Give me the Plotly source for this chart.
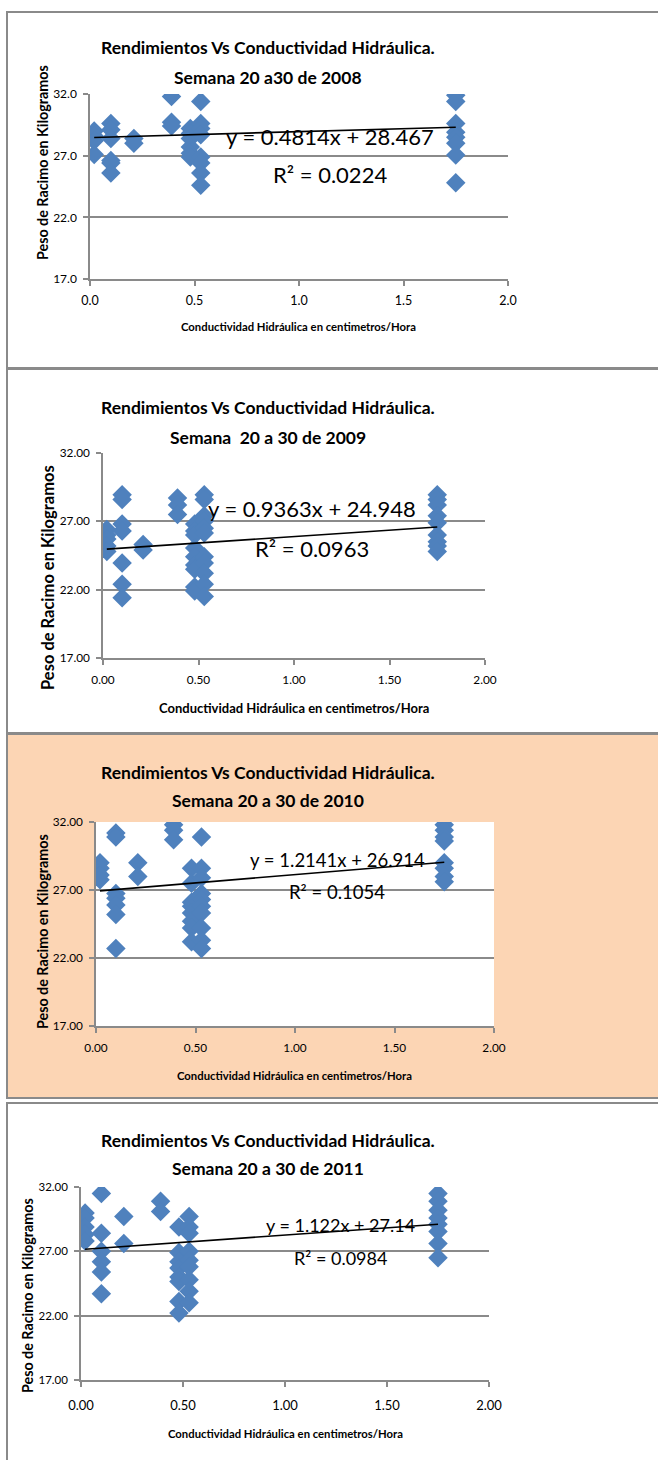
import plotly.graph_objects as go

W, H = 658, 1460
FONT = "Lato, Carlito, Calibri, sans-serif"
BLUE = "#4F81BD"
GRAY = "#8a8a8a"

# ---------------- data ----------------
x_2008 = [0.02, 0.02, 0.02, 0.02,
          0.10, 0.10, 0.10, 0.10, 0.10, 0.10,
          0.21, 0.21,
          0.39, 0.39, 0.39,
          0.48, 0.48, 0.48, 0.48, 0.48, 0.48,
          0.53, 0.53, 0.53, 0.53, 0.53, 0.53, 0.53, 0.53,
          1.75, 1.75, 1.75, 1.75, 1.75, 1.75, 1.75, 1.75]
y_2008 = [29.0, 28.6, 28.2, 27.1,
          29.6, 29.1, 28.4, 26.6, 26.4, 25.6,
          28.4, 28.0,
          31.8, 29.7, 29.4,
          29.2, 28.8, 28.4, 27.7, 27.2, 26.9,
          31.4, 29.6, 29.2, 28.7, 26.9, 26.4, 25.6, 24.6,
          31.9, 31.4, 29.6, 28.9, 28.5, 28.0, 27.05, 24.8]

x_2009 = [0.02, 0.02, 0.02, 0.02, 0.02,
          0.10, 0.10, 0.10, 0.10, 0.10, 0.10, 0.10,
          0.21, 0.21,
          0.39, 0.39, 0.39,
          0.48, 0.48, 0.48, 0.48, 0.48, 0.48, 0.48, 0.48, 0.48,
          0.53, 0.53, 0.53, 0.53, 0.53, 0.53, 0.53, 0.53, 0.53, 0.53, 0.53,
          1.75, 1.75, 1.75, 1.75, 1.75, 1.75, 1.75, 1.75, 1.75]
y_2009 = [26.4, 26.0, 25.7, 25.2, 24.8,
          28.95, 28.6, 26.8, 26.3, 23.95, 22.4, 21.4,
          25.3, 24.9,
          28.7, 28.2, 27.5,
          26.8, 26.3, 26.0, 25.05, 24.4, 23.8, 23.5, 22.2, 21.9,
          28.95, 28.6, 27.4, 27.0, 26.5, 26.15, 24.4, 23.95, 23.2, 22.4, 21.5,
          28.95, 28.6, 28.2, 27.4, 26.9, 26.0, 25.5, 25.2, 24.8]

x_2010 = [0.02, 0.02, 0.02, 0.02,
          0.10, 0.10, 0.10, 0.10, 0.10, 0.10, 0.10,
          0.21, 0.21,
          0.39, 0.39, 0.39,
          0.48, 0.48, 0.48, 0.48, 0.48, 0.48, 0.48, 0.48,
          0.53, 0.53, 0.53, 0.53, 0.53, 0.53, 0.53, 0.53, 0.53, 0.53,
          1.75, 1.75, 1.75, 1.75, 1.75, 1.75, 1.75, 1.75]
y_2010 = [29.0, 28.6, 28.1, 27.75,
          31.2, 30.9, 26.75, 26.4, 25.9, 25.2, 22.7,
          29.0, 28.0,
          31.8, 31.4, 30.7,
          28.6, 27.5, 26.1, 25.8, 25.3, 24.7, 24.2, 23.2,
          30.9, 28.6, 27.9, 26.75, 26.3, 25.8, 25.3, 24.2, 23.3, 22.7,
          31.8, 31.4, 30.9, 30.6, 29.0, 28.6, 28.0, 27.6]

x_2011 = [0.02, 0.02, 0.02, 0.02, 0.02,
          0.10, 0.10, 0.10, 0.10, 0.10, 0.10,
          0.21, 0.21,
          0.39, 0.39,
          0.48, 0.48, 0.48, 0.48, 0.48, 0.48, 0.48, 0.48,
          0.53, 0.53, 0.53, 0.53, 0.53, 0.53, 0.53, 0.53, 0.53,
          1.75, 1.75, 1.75, 1.75, 1.75, 1.75, 1.75, 1.75]
y_2011 = [29.97, 29.6, 28.9, 28.3, 27.8,
          31.5, 28.4, 27.0, 26.2, 25.4, 23.7,
          29.7, 27.6,
          30.9, 30.1,
          28.9, 26.9, 26.2, 25.7, 25.0, 24.65, 23.1, 22.2,
          29.7, 28.9, 28.4, 27.0, 26.3, 25.8, 24.8, 23.9, 23.0,
          31.5, 30.9, 30.2, 29.6, 29.1, 28.55, 27.6, 26.5]

subtitles = ["Semana 20 a30 de 2008", "Semana\u00a0 20 a 30 de 2009",
             "Semana 20 a 30 de 2010", "Semana 20 a 30 de 2011"]
slopes = [0.4814, 0.9363, 1.2141, 1.122]
intercepts = [28.467, 24.948, 26.914, 27.14]
eq_labels = ["y = 0.4814x + 28.467", "y = 0.9363x + 24.948",
             "y = 1.2141x + 26.914", "y = 1.122x + 27.14"]
r2_labels = ["R² = 0.0224", "R² = 0.0963", "R² = 0.1054", "R² = 0.0984"]
trend_x = [0.02, 1.75]
y_ticks = [17, 22, 27, 32]
x_ticks = [0.0, 0.5, 1.0, 1.5, 2.0]
tick_fmt = [".1f", ".2f", ".2f", ".2f"]
xs = [x_2008, x_2009, x_2010, x_2011]
ys = [y_2008, y_2009, y_2010, y_2011]

# ---------------- layout geometry (pixels) ----------------
plot_boxes = [(90, 508, 94, 279), (103, 485, 453, 658),
              (96, 494, 822, 1026), (81, 489, 1187, 1380)]
frames = [(7, 12, 700, 368), (7, 369, 700, 733),
          (7, 734, 700, 1098), (7, 1103, 700, 1500)]
title_pos = [(268, 48, 77), (268, 408, 437), (268, 772, 800), (268, 1140, 1168)]
title_size = [17.5, 17.5, 17.5, 17.5]
eq_pos = [(330, 136, 174), (312, 508, 548), (337, 860, 892), (341, 1225, 1258)]
eq_size = [22, 22, 18.5, 18]
xt_pos = [(298, 327), (294, 708), (294, 1075), (285, 1433)]
xt_size = [11.3, 13, 11.3, 11.3]
yt_pos = [(43, 163), (48, 578), (42, 932), (27, 1296)]
yt_size = [14.3, 16.5, 14.3, 14.3]
ytick_size = [12, 11.8, 11.8, 11.5]
xtick_size = [12.5, 11.8, 11.8, 13]
ytick_gap = [4, 4, 4, 4]
xtick_gap = [4, 5, 5, 8]


def px(x):
    return x / W


def py(y):
    return 1 - y / H


fig = go.Figure()
shapes = []
annotations = []

for i in range(4):
    fx0, fy0, fx1, fy1 = frames[i]
    fill = "#FCD5B4" if i == 2 else "rgba(0,0,0,0)"
    shapes.append(dict(type="rect", xref="paper", yref="paper",
                       x0=px(fx0), x1=px(fx1), y0=py(fy1), y1=py(fy0),
                       line=dict(color=GRAY, width=2), fillcolor=fill, layer="below"))
    bx0, bx1, by0, by1 = plot_boxes[i]
    shapes.append(dict(type="rect", xref="paper", yref="paper",
                       x0=px(bx0), x1=px(bx1), y0=py(by1), y1=py(by0),
                       line=dict(width=0), fillcolor="white", layer="below"))

    sfx = "" if i == 0 else str(i + 1)
    fig.add_trace(go.Scatter(
        x=xs[i], y=ys[i], mode="markers",
        marker=dict(symbol="diamond", size=15, color=BLUE, line=dict(width=0)),
        xaxis="x" + sfx, yaxis="y" + sfx, showlegend=False, hoverinfo="skip"))
    fig.add_trace(go.Scatter(
        x=trend_x, y=[slopes[i] * v + intercepts[i] for v in trend_x],
        mode="lines", line=dict(color="black", width=1.6),
        xaxis="x" + sfx, yaxis="y" + sfx, showlegend=False, hoverinfo="skip"))

    common = dict(showline=True, linecolor=GRAY, linewidth=1.5, ticks="outside",
                  ticklen=5, tickcolor=GRAY, tickwidth=1.5, zeroline=False,
                  fixedrange=True, tickformat=tick_fmt[i], automargin=False)
    fig.layout["xaxis" + sfx] = dict(
        domain=[px(bx0), px(bx1)], range=[0, 2], tickvals=x_ticks,
        showgrid=False, anchor="y" + sfx, ticklabelstandoff=xtick_gap[i],
        tickfont=dict(family=FONT, size=xtick_size[i], color="black"), **common)
    fig.layout["yaxis" + sfx] = dict(
        domain=[py(by1), py(by0)], range=[17, 32], tickvals=y_ticks,
        showgrid=True, gridcolor=GRAY, gridwidth=1.5, anchor="x" + sfx,
        ticklabelstandoff=ytick_gap[i],
        tickfont=dict(family=FONT, size=ytick_size[i], color="black"), **common)

    tx, ty1, ty2 = title_pos[i]
    annotations.append(dict(text="<b>Rendimientos Vs Conductividad Hidráulica.</b>",
                            x=px(tx), y=py(ty1), xref="paper", yref="paper",
                            showarrow=False, xanchor="center", yanchor="middle",
                            font=dict(family=FONT, size=title_size[i], color="black")))
    annotations.append(dict(text="<b>" + subtitles[i] + "</b>",
                            x=px(tx), y=py(ty2), xref="paper", yref="paper",
                            showarrow=False, xanchor="center", yanchor="middle",
                            font=dict(family=FONT, size=title_size[i], color="black")))
    ex, ey1, ey2 = eq_pos[i]
    annotations.append(dict(text=eq_labels[i], x=px(ex), y=py(ey1), xref="paper",
                            yref="paper", showarrow=False, xanchor="center",
                            yanchor="middle",
                            font=dict(family=FONT, size=eq_size[i], color="black")))
    annotations.append(dict(text=r2_labels[i], x=px(ex), y=py(ey2), xref="paper",
                            yref="paper", showarrow=False, xanchor="center",
                            yanchor="middle",
                            font=dict(family=FONT, size=eq_size[i], color="black")))
    xtx, xty = xt_pos[i]
    annotations.append(dict(text="<b>Conductividad Hidráulica en centimetros/Hora</b>",
                            x=px(xtx), y=py(xty), xref="paper", yref="paper",
                            showarrow=False, xanchor="center", yanchor="middle",
                            font=dict(family=FONT, size=xt_size[i], color="black")))
    ytx, yty = yt_pos[i]
    annotations.append(dict(text="<b>Peso de Racimo en Kilogramos</b>",
                            x=px(ytx), y=py(yty), xref="paper", yref="paper",
                            showarrow=False, xanchor="center", yanchor="middle",
                            textangle=-90,
                            font=dict(family=FONT, size=yt_size[i], color="black")))

fig.update_layout(template="none", width=W, height=H,
                  margin=dict(l=0, r=0, t=0, b=0, pad=0, autoexpand=False),
                  paper_bgcolor="white", plot_bgcolor="rgba(0,0,0,0)",
                  shapes=shapes, annotations=annotations, showlegend=False)

fig.write_html("out.html")
